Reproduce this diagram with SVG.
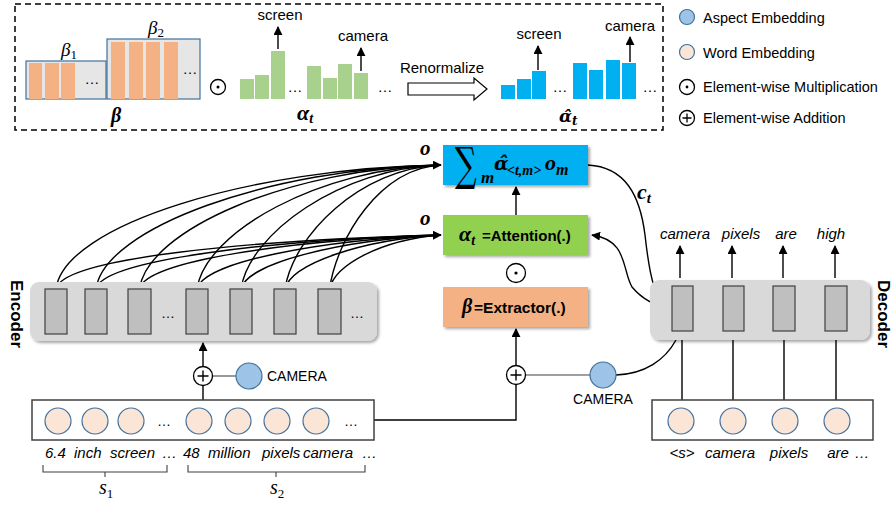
<svg xmlns="http://www.w3.org/2000/svg" width="894" height="506" viewBox="0 0 894 506">
<defs>
<style>
.sans{font-family:"Liberation Sans",Arial,sans-serif;fill:#000}
.ital{font-family:"Liberation Sans",Arial,sans-serif;font-style:italic;fill:#000}
.math{font-family:"Liberation Serif","DejaVu Serif",serif;font-style:italic;font-weight:bold;fill:#000}
.mathd{font-family:"DejaVu Serif",serif;font-style:italic;font-weight:bold;fill:#000}
.mathn{font-family:"Liberation Serif",serif;font-style:italic;fill:#000}
.bold{font-family:"Liberation Sans",Arial,sans-serif;font-weight:bold;fill:#000}
.ln{fill:none;stroke:#000;stroke-width:1.4}
.gl{fill:none;stroke:#7f7f7f;stroke-width:1.6}
.cell{fill:#bfbfbf;stroke:#404040;stroke-width:1.2}
.word{fill:#fbe5d6;stroke:#41719c;stroke-width:1.2}
.asp{fill:#9dc3e6;stroke:#41719c;stroke-width:1.2}
.org{fill:#f4b183}
.grn{fill:#a9d18e}
.blu{fill:#00b0f0}
.op{fill:#fff;stroke:#000;stroke-width:1.3}
</style>
<marker id="ah" viewBox="0 0 10 10" refX="9" refY="5" markerWidth="9" markerHeight="9" markerUnits="userSpaceOnUse" orient="auto-start-reverse">
<path d="M0,0 L10,5 L0,10 z" fill="#000"/>
</marker>
<filter id="sh" x="-10%" y="-10%" width="130%" height="140%">
<feDropShadow dx="2" dy="2" stdDeviation="1.5" flood-color="#000" flood-opacity="0.35"/>
</filter>
</defs>
<rect width="894" height="506" fill="#fff"/>

<!-- top dashed panel -->
<g id="panel">
<rect x="15" y="4" width="648" height="126" fill="none" stroke="#000" stroke-width="1.5" stroke-dasharray="6,4"/>
<rect x="26" y="61" width="80" height="38" fill="#e7e6e6" stroke="#41719c" stroke-width="1.2"/>
<rect class="org" x="29" y="63" width="13" height="36"/>
<rect class="org" x="45" y="63" width="14" height="36"/>
<rect class="org" x="61" y="63" width="14" height="36"/>
<text class="sans" x="92" y="84" font-size="15" text-anchor="middle">…</text>
<rect x="107" y="39" width="93" height="60" fill="#e7e6e6" stroke="#41719c" stroke-width="1.2"/>
<rect class="org" x="111" y="42" width="14" height="57"/>
<rect class="org" x="129" y="42" width="14" height="57"/>
<rect class="org" x="146" y="42" width="14" height="57"/>
<rect class="org" x="164" y="42" width="14" height="57"/>
<text class="sans" x="190" y="74" font-size="15" text-anchor="middle">…</text>
<text class="mathn" x="61" y="56" font-size="19">β<tspan font-size="13" dy="3" font-style="normal">1</tspan></text>
<text class="mathn" x="148" y="34" font-size="19">β<tspan font-size="13" dy="3" font-style="normal">2</tspan></text>
<text class="math" x="116" y="122" font-size="20" text-anchor="middle">β</text>
<circle class="op" cx="218" cy="87" r="7.5"/><circle cx="218" cy="87" r="1.5"/>
<rect class="grn" x="240" y="79" width="14" height="20"/>
<rect class="grn" x="255" y="75" width="14" height="24"/>
<rect class="grn" x="271" y="51" width="14" height="48"/>
<text class="sans" x="295" y="92" font-size="15" text-anchor="middle">…</text>
<rect class="grn" x="307" y="66" width="14" height="33"/>
<rect class="grn" x="323" y="78" width="14" height="21"/>
<rect class="grn" x="338" y="64" width="14" height="35"/>
<rect class="grn" x="354" y="73" width="14" height="26"/>
<text class="sans" x="385" y="92" font-size="15" text-anchor="middle">…</text>
<path class="ln" d="M278,49 V27" marker-end="url(#ah)"/>
<text class="sans" x="280" y="20" font-size="15" text-anchor="middle">screen</text>
<path class="ln" d="M361,71 V48" marker-end="url(#ah)"/>
<text class="sans" x="363" y="41" font-size="15" text-anchor="middle">camera</text>
<text class="math" x="297" y="120" font-size="22">α<tspan font-size="14" dy="3">t</tspan></text>
<polygon points="408,83 474,83 474,78 487,89 474,100 474,95 408,95" fill="#fff" stroke="#000" stroke-width="1.2"/>
<text class="sans" x="442" y="73" font-size="15" text-anchor="middle">Renormalize</text>
<rect class="blu" x="501" y="85" width="14" height="14"/>
<rect class="blu" x="517" y="79" width="14" height="20"/>
<rect class="blu" x="532" y="71" width="14" height="28"/>
<text class="sans" x="560" y="92" font-size="15" text-anchor="middle">…</text>
<rect class="blu" x="573" y="63" width="14" height="36"/>
<rect class="blu" x="589" y="70" width="14" height="29"/>
<rect class="blu" x="606" y="60" width="14" height="39"/>
<rect class="blu" x="622" y="63" width="14" height="36"/>
<text class="sans" x="650" y="92" font-size="15" text-anchor="middle">…</text>
<path class="ln" d="M538,70 V46" marker-end="url(#ah)"/>
<text class="sans" x="539" y="39" font-size="15" text-anchor="middle">screen</text>
<path class="ln" d="M630,62 V37" marker-end="url(#ah)"/>
<text class="sans" x="630" y="31" font-size="15" text-anchor="middle">camera</text>
<text class="mathd" x="559" y="122" font-size="17">α&#x302;<tspan font-size="12" dy="3">t</tspan></text>
</g>

<!-- legend -->
<g id="legend">
<circle class="asp" cx="687" cy="17" r="7.5"/>
<text class="sans" x="703" y="22.5" font-size="14.5">Aspect Embedding</text>
<circle class="word" cx="687" cy="52" r="7.5"/>
<text class="sans" x="703" y="57.5" font-size="14.5">Word Embedding</text>
<circle class="op" cx="687" cy="87" r="7.5"/><circle cx="687" cy="87" r="1.4"/>
<text class="sans" x="703" y="92" font-size="14.5">Element-wise Multiplication</text>
<circle class="op" cx="687" cy="118" r="7.5"/><path d="M682.5,118 H691.5 M687,113.5 V122.5" stroke="#000" stroke-width="1.3"/>
<text class="sans" x="703" y="123" font-size="14.5">Element-wise Addition</text>
</g>

<!-- connectors -->
<g id="connectors">
<g class="ln" stroke-width="1.3">
<path d="M56,289 C64,225 250,168 441,165" marker-end="url(#ah)"/>
<path d="M96,289 C104,228 270,168 441,165"/>
<path d="M139.5,289 C147,230 290,168 441,165"/>
<path d="M197,289 C205,232 320,168 441,165"/>
<path d="M241,289 C249,234 340,168 441,165"/>
<path d="M285,289 C293,236 360,168 441,165"/>
<path d="M329.5,289 C337,238 380,168 441,165"/>
<path d="M56,289 C62,258 250,240 441,235" marker-end="url(#ah)"/>
<path d="M96,289 C102,260 270,240 441,235"/>
<path d="M139.5,289 C145,261 290,240 441,235"/>
<path d="M197,289 C203,262 320,240 441,235"/>
<path d="M241,289 C247,263 340,240 441,235"/>
<path d="M285,289 C291,264 360,240 441,235"/>
<path d="M329.5,289 C335,265 380,240 441,235"/>
</g>
<path class="ln" d="M516,215 V187" marker-end="url(#ah)"/>
<path class="ln" d="M588,165 C625,167 640,195 645,235 C650,280 655,300 670,307" marker-end="url(#ah)"/>
<path class="ln" d="M592,235 C628,240 622,270 632,287 C643,300 655,306 670,308" marker-start="url(#ah)" marker-end="url(#ah)"/>
<path class="ln" d="M516,365.5 V329" marker-end="url(#ah)"/>
<path class="ln" d="M374,420 H516 V384.5"/>
<path class="gl" d="M525.5,375 H590"/>
<path class="ln" d="M616,375 C645,374 665,360 676,340"/>
<path class="ln" d="M203,400 V385.5"/>
<path class="ln" d="M203,366.5 V343" marker-end="url(#ah)"/>
<path class="gl" d="M212.5,376 H236"/>
<path class="ln" d="M682,400 V331"/>
<path class="ln" d="M733,400 V331"/>
<path class="ln" d="M784,400 V331"/>
<path class="ln" d="M836,400 V331"/>
<path class="ln" d="M693,308 H722" marker-end="url(#ah)"/>
<path class="ln" d="M744,308 H772" marker-end="url(#ah)"/>
<path class="ln" d="M795,308 H824" marker-end="url(#ah)"/>
<path class="ln" d="M680,278 V246" marker-end="url(#ah)"/>
<path class="ln" d="M732,278 V246" marker-end="url(#ah)"/>
<path class="ln" d="M783,278 V246" marker-end="url(#ah)"/>
<path class="ln" d="M835,278 V246" marker-end="url(#ah)"/>
<text class="math" x="420" y="155" font-size="21">o</text>
<text class="math" x="420" y="225" font-size="21">o</text>
<text class="math" x="637" y="199" font-size="22">c<tspan font-size="15" dy="4">t</tspan></text>
<circle class="op" cx="516" cy="273" r="9.5"/><circle cx="516" cy="273" r="1.6"/>
</g>

<!-- sum node -->
<g id="sum">
<rect x="443" y="145" width="145" height="40" fill="#00b0f0" filter="url(#sh)"/>
<text font-family="DejaVu Serif,serif" font-size="46" fill="#000" transform="translate(455,180) scale(0.66,1)">∑</text>
<text class="math" x="481" y="183" font-size="17">m</text>
<text class="mathd" x="494" y="170" font-size="19">α&#x302;</text>
<text class="math" x="507" y="175" font-size="14">&lt;t,m&gt;</text>
<text class="math" x="545" y="170" font-size="22">o</text>
<text class="math" x="556" y="175" font-size="16">m</text>
</g>

<!-- attention node -->
<g id="attention">
<rect x="443" y="215" width="145" height="40" fill="#92d050" filter="url(#sh)"/>
<text class="math" x="459" y="241" font-size="22">α<tspan font-size="14" dy="4">t</tspan></text>
<text class="bold" x="482" y="241" font-size="15">=Attention(.)</text>
</g>

<!-- extractor node -->
<g id="extractor">
<rect x="443" y="287" width="145" height="40" fill="#f4b183" filter="url(#sh)"/>
<text class="math" x="462" y="313" font-size="20">β</text>
<text class="bold" x="474" y="313" font-size="15.5">=Extractor(.)</text>
</g>

<!-- encoder -->
<g id="encoder">
<rect x="30" y="282" width="347" height="59" rx="9" fill="#d9d9d9" filter="url(#sh)"/>
<rect class="cell" x="45" y="289" width="22" height="45"/>
<rect class="cell" x="85" y="289" width="22" height="45"/>
<rect class="cell" x="128" y="289" width="23" height="45"/>
<rect class="cell" x="186" y="289" width="22" height="45"/>
<rect class="cell" x="230" y="289" width="22" height="45"/>
<rect class="cell" x="274" y="289" width="22" height="45"/>
<rect class="cell" x="318" y="289" width="23" height="45"/>
<text class="sans" x="168" y="318" font-size="14" text-anchor="middle">…</text>
<text class="sans" x="357" y="318" font-size="14" text-anchor="middle">…</text>
<text class="bold" font-size="17" transform="translate(11,280) rotate(90)">Encoder</text>
</g>

<!-- decoder -->
<g id="decoder">
<rect x="650" y="280" width="220" height="60" rx="9" fill="#d9d9d9" filter="url(#sh)"/>
<rect class="cell" x="672" y="286" width="21" height="45"/>
<rect class="cell" x="723" y="286" width="21" height="45"/>
<rect class="cell" x="773" y="286" width="22" height="45"/>
<rect class="cell" x="825" y="286" width="22" height="45"/>
<text class="bold" font-size="17" transform="translate(878,280) rotate(90)">Decoder</text>
<text class="ital" x="685" y="239" font-size="15" text-anchor="middle">camera</text>
<text class="ital" x="741" y="239" font-size="15" text-anchor="middle">pixels</text>
<text class="ital" x="786" y="239" font-size="15" text-anchor="middle">are</text>
<text class="ital" x="831" y="239" font-size="15" text-anchor="middle">high</text>
</g>

<!-- encoder input -->
<g id="encoder-input">
<rect x="32" y="400" width="342" height="40" fill="#fff" stroke="#404040" stroke-width="1.5"/>
<circle class="word" cx="58" cy="421" r="13"/>
<circle class="word" cx="95" cy="421" r="13"/>
<circle class="word" cx="131" cy="421" r="13"/>
<text class="sans" x="164" y="426" font-size="14" text-anchor="middle">…</text>
<circle class="word" cx="199" cy="421" r="13"/>
<circle class="word" cx="238" cy="421" r="13"/>
<circle class="word" cx="277" cy="421" r="13"/>
<circle class="word" cx="316" cy="421" r="13"/>
<text class="sans" x="351" y="426" font-size="14" text-anchor="middle">…</text>
<text class="ital" x="45" y="458" font-size="15">6.4</text>
<text class="ital" x="74" y="458" font-size="15">inch</text>
<text class="ital" x="110" y="458" font-size="15">screen</text>
<text class="ital" x="162" y="458" font-size="15">…</text>
<text class="ital" x="183" y="458" font-size="15">48</text>
<text class="ital" x="208" y="458" font-size="15">million</text>
<text class="ital" x="262" y="458" font-size="15">pixels</text>
<text class="ital" x="303" y="458" font-size="15">camera</text>
<text class="ital" x="362" y="458" font-size="15">…</text>
<path d="M43,465 V472 H167 V465 M105,472 V477 M188,465 V472 H365 V465 M276,472 V477" fill="none" stroke="#404040" stroke-width="1.1"/>
<text class="mathn" x="99" y="494" font-size="20">s<tspan font-size="13" dy="4" font-style="normal">1</tspan></text>
<text class="mathn" x="270" y="494" font-size="20">s<tspan font-size="13" dy="4" font-style="normal">2</tspan></text>
</g>

<!-- encoder aspect add -->
<g id="encoder-add">
<circle class="op" cx="203" cy="376" r="9.5"/>
<path d="M197.5,376 H208.5 M203,370.5 V381.5" stroke="#000" stroke-width="1.4"/>
<circle class="asp" cx="249" cy="376" r="13"/>
<text class="sans" x="267" y="381" font-size="14">CAMERA</text>
</g>

<!-- extractor aspect add -->
<g id="extractor-add">
<circle class="op" cx="516" cy="375" r="9.5"/>
<path d="M510.5,375 H521.5 M516,369.5 V380.5" stroke="#000" stroke-width="1.4"/>
<circle class="asp" cx="603" cy="375" r="13"/>
<text class="sans" x="603" y="404" font-size="14" text-anchor="middle">CAMERA</text>
</g>

<!-- decoder input -->
<g id="decoder-input">
<rect x="652" y="400" width="221" height="40" fill="#fff" stroke="#404040" stroke-width="1.5"/>
<circle class="word" cx="681" cy="421" r="13"/>
<circle class="word" cx="733" cy="421" r="13"/>
<circle class="word" cx="785" cy="421" r="13"/>
<circle class="word" cx="837" cy="421" r="13"/>
<text class="ital" x="682" y="458" font-size="15" text-anchor="middle">&lt;s&gt;</text>
<text class="ital" x="730" y="458" font-size="15" text-anchor="middle">camera</text>
<text class="ital" x="789" y="458" font-size="15" text-anchor="middle">pixels</text>
<text class="ital" x="838" y="458" font-size="15" text-anchor="middle">are</text>
<text class="ital" x="862" y="458" font-size="15" text-anchor="middle">…</text>
</g>
</svg>
